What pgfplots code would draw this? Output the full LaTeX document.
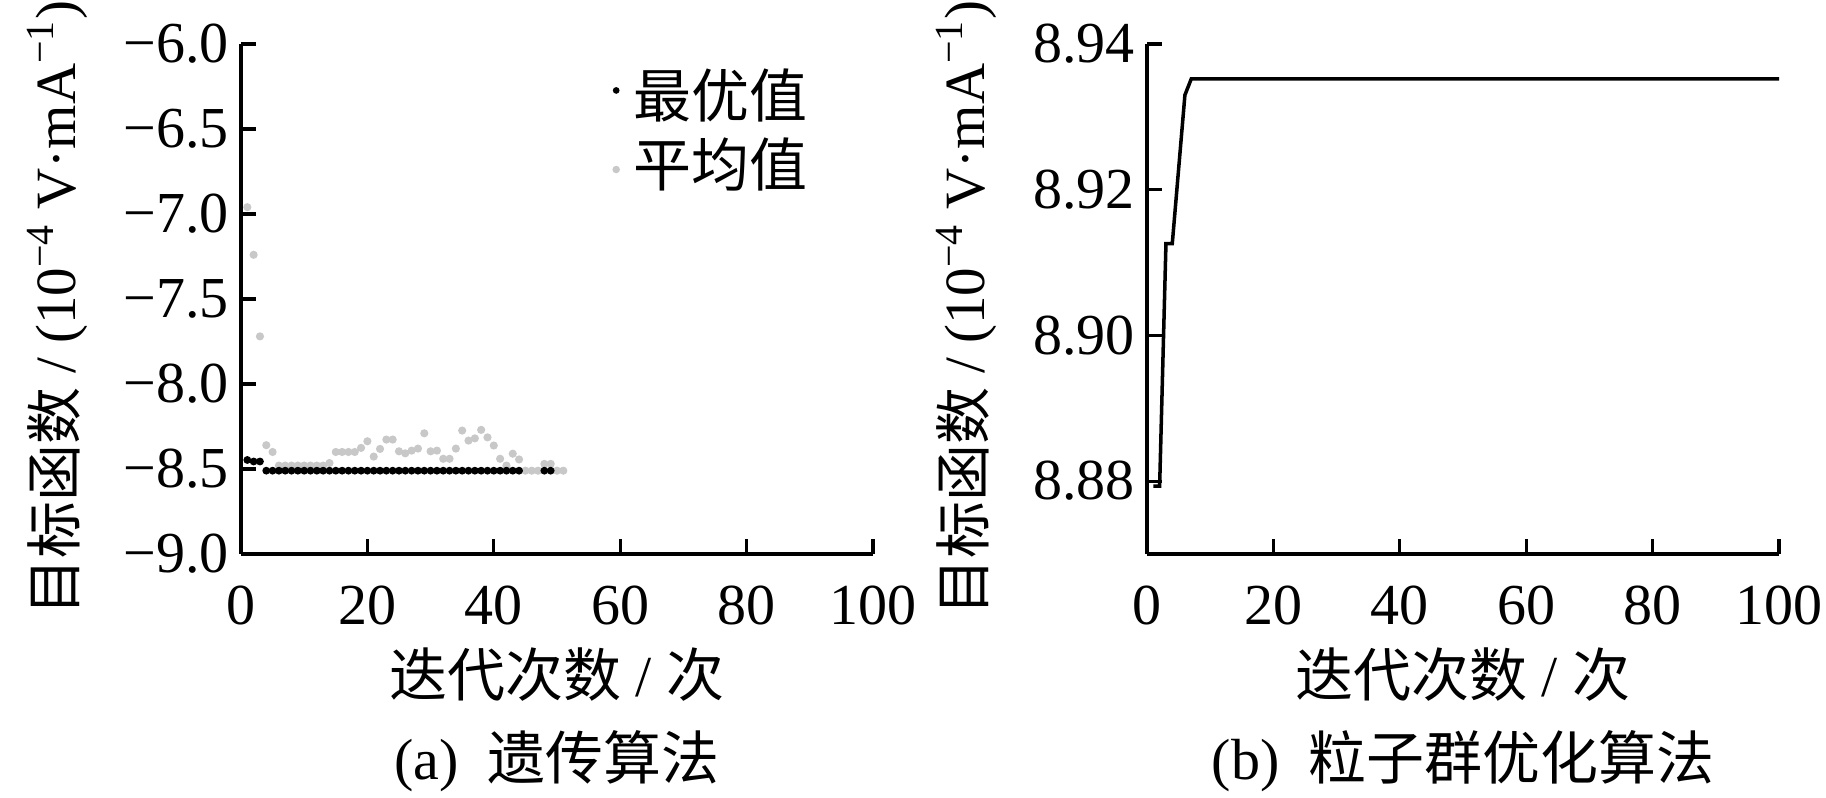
\documentclass[border=0pt]{standalone}
\usepackage{fontspec}
\setmainfont{Liberation Serif}
\newfontfamily\cjk{Noto Sans CJK SC}
\usepackage{pgfplots}
\pgfplotsset{compat=1.18}
\definecolor{meangray}{RGB}{200,200,200}

\newcommand\bigfont{\fontsize{16.5}{19}\selectfont}

\pgfplotsset{
  panel/.style={
    scale only axis, width=6.32cm, height=5.10cm,
    axis lines=left,
    axis line style={-, line width=1.1pt},
    tick align=inside,
    major tick length=0.15cm,
    major tick style={line width=0.9pt, black},
    xmin=0, xmax=100, xtick={0,20,...,100},
    /pgf/number format/assume math mode=true,
    tick label style={font=\bigfont},
    xticklabel style={yshift=-0.2cm},
    label style={font=\bigfont},
    ylabel style={at={(axis description cs:-0.29,0.482)}, anchor=center,
      font=\fontsize{16.2}{19}\selectfont},
    xlabel style={at={(axis description cs:0.5,-0.237)}, anchor=center},
    title style={at={(axis description cs:0.5,-0.447)}, anchor=center, font=\bigfont},
    clip=false,
  },
}

\begin{document}
\begin{tikzpicture}
\useasboundingbox (0,0) rectangle (18.26,7.98);

% (a) genetic algorithm
\begin{axis}[panel,
    at={(2.41cm,2.44cm)}, anchor=south west,
    ymin=-9, ymax=-6,
    ytick={-9,-8.5,-8,-7.5,-7,-6.5,-6},
    yticklabels={−9.0,−8.5,−8.0,−7.5,−7.0,−6.5,−6.0},
    xlabel={{\cjk 迭代次数} / {\cjk 次}},
    ylabel={{\cjk 目标函数} / (10\textsuperscript{−4} V·mA\textsuperscript{−1})},
    title={(a)\ \ {\cjk 遗传算法}},
    legend style={at={(axis description cs:0.57,0.981)}, anchor=north west,
      draw=none, fill=none, font=\bigfont, row sep=0.3pt},
    legend cell align=left,
    reverse legend,
  ]
  \addplot[only marks, mark=*, mark size=0.95pt, color=meangray,
    legend image code/.code={\path[draw=none,fill=none] (0,0) -- (0.1cm,0);
      \fill[meangray] (0cm,-0.05cm) circle (0.03cm);}]
  coordinates {
    (1,-6.96) (2,-7.24) (3,-7.72) (4,-8.36) (5,-8.40) (6,-8.48)
    (7,-8.48) (8,-8.48) (9,-8.48) (10,-8.48) (11,-8.48) (12,-8.48)
    (13,-8.48) (14,-8.465) (15,-8.40) (16,-8.40) (17,-8.40) (18,-8.40)
    (19,-8.376) (20,-8.337) (21,-8.427) (22,-8.382) (23,-8.327) (24,-8.327)
    (25,-8.396) (26,-8.408) (27,-8.392) (28,-8.38) (29,-8.29) (30,-8.396)
    (31,-8.392) (32,-8.44) (33,-8.44) (34,-8.38) (35,-8.274) (36,-8.333)
    (37,-8.32) (38,-8.27) (39,-8.314) (40,-8.362) (41,-8.44) (42,-8.48)
    (43,-8.41) (44,-8.444) (45,-8.51) (46,-8.51) (47,-8.51) (48,-8.47)
    (49,-8.47) (50,-8.51) (51,-8.51)
  };
  \addlegendentry{{\cjk 平均值}}
  \addplot[only marks, mark=*, mark size=0.9pt, color=black,
    legend image code/.code={\path[draw=none,fill=none] (0,0) -- (0.1cm,0);
      \fill[black] (0cm,0.05cm) circle (0.026cm);}]
  coordinates {
    (1,-8.447) (2,-8.456) (3,-8.456) (4,-8.51) (5,-8.51) (6,-8.51)
    (7,-8.51) (8,-8.51) (9,-8.51) (10,-8.51) (11,-8.51) (12,-8.51)
    (13,-8.51) (14,-8.51) (15,-8.51) (16,-8.51) (17,-8.51) (18,-8.51)
    (19,-8.51) (20,-8.51) (21,-8.51) (22,-8.51) (23,-8.51) (24,-8.51)
    (25,-8.51) (26,-8.51) (27,-8.51) (28,-8.51) (29,-8.51) (30,-8.51)
    (31,-8.51) (32,-8.51) (33,-8.51) (34,-8.51) (35,-8.51) (36,-8.51)
    (37,-8.51) (38,-8.51) (39,-8.51) (40,-8.51) (41,-8.51) (42,-8.51)
    (43,-8.51) (44,-8.51) (48,-8.51) (49,-8.51)
  };
  \addlegendentry{{\cjk 最优值}}
\end{axis}

% (b) particle swarm optimisation
\begin{axis}[panel,
    at={(11.47cm,2.44cm)}, anchor=south west,
    ymin=8.87, ymax=8.94,
    ytick={8.88,8.90,8.92,8.94},
    yticklabels={8.88,8.90,8.92,8.94},
    ylabel style={at={(axis description cs:-0.285,0.482)}},
    xlabel={{\cjk 迭代次数} / {\cjk 次}},
    ylabel={{\cjk 目标函数} / (10\textsuperscript{−4} V·mA\textsuperscript{−1})},
    title={(b)\ \ {\cjk 粒子群优化算法}},
  ]
  \addplot[black, line width=1pt, sharp plot] coordinates {
    (1,8.8793) (2,8.8793) (3,8.9126) (4,8.9126) (6,8.9330) (7,8.9352)
    (100,8.9352)
  };
\end{axis}
\end{tikzpicture}
\end{document}
